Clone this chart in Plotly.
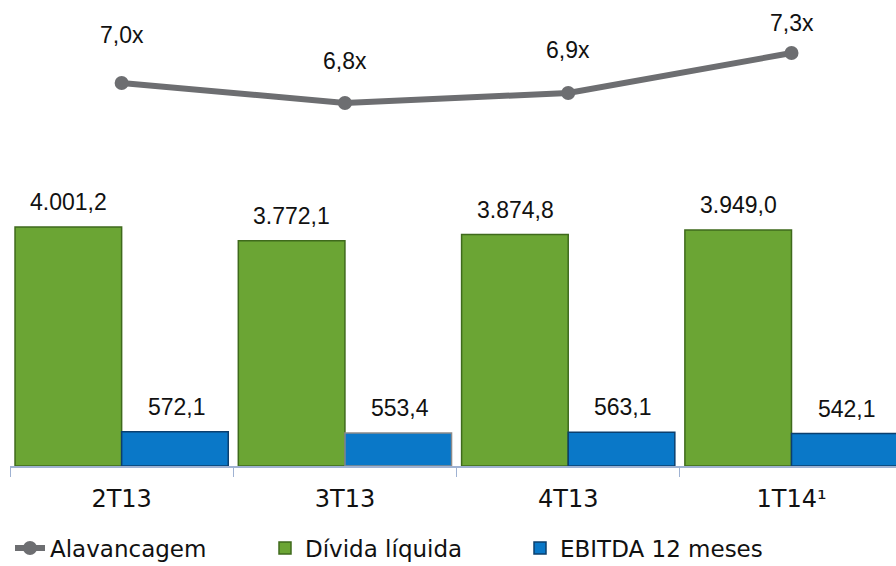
"""Dívida líquida x EBITDA 12 meses, com alavancagem."""

import plotly.graph_objects as go

quarters = ["2T13", "3T13", "4T13", "1T14¹"]
divida_liquida = [4001.2, 3772.1, 3874.8, 3949.0]
ebitda_12m = [572.1, 553.4, 563.1, 542.1]
alavancagem = [7.0, 6.8, 6.9, 7.3]

divida_labels = ["4.001,2", "3.772,1", "3.874,8", "3.949,0"]
ebitda_labels = ["572,1", "553,4", "563,1", "542,1"]
alav_labels = ["7,0x", "6,8x", "6,9x", "7,3x"]

GREEN = "#6ba534"
GREEN_EDGE = "#3f6a1c"
BLUE = "#0a78c8"
BLUE_EDGE = "#0b3f6e"
GREY = "#6d6e71"
NUM_FONT = dict(family="Liberation Sans, Arial", size=23, color="#111111")
TXT_FONT = "DejaVu Sans, Verdana, sans-serif"

fig = go.Figure()

fig.add_trace(
    go.Scatter(
        x=quarters,
        y=alavancagem,
        name="Alavancagem",
        mode="lines+markers",
        line=dict(color=GREY, width=6),
        marker=dict(color=GREY, size=14),
        yaxis="y2",
    )
)
fig.add_trace(
    go.Bar(
        x=quarters,
        y=divida_liquida,
        name="Dívida líquida",
        marker=dict(color=GREEN, line=dict(color=GREEN_EDGE, width=1.5)),
    )
)
fig.add_trace(
    go.Bar(
        x=quarters,
        y=ebitda_12m,
        name="EBITDA 12 meses",
        marker=dict(
            color=BLUE,
            line=dict(color=[BLUE_EDGE, "#8a8a8a", BLUE_EDGE, BLUE_EDGE], width=1.5),
        ),
    )
)

# value labels
for q, v, t in zip(quarters, divida_liquida, divida_labels):
    fig.add_annotation(x=q, y=v, text=t, showarrow=False, yanchor="bottom",
                       xshift=-53, yshift=10, font=NUM_FONT)
for q, v, t in zip(quarters, ebitda_12m, ebitda_labels):
    fig.add_annotation(x=q, y=v, text=t, showarrow=False, yanchor="bottom",
                       xshift=55, yshift=10, font=NUM_FONT)
alav_shift = [48, 42, 43, 30]
for q, v, t, s in zip(quarters, alavancagem, alav_labels, alav_shift):
    fig.add_annotation(x=q, y=v, yref="y2", text=t, showarrow=False,
                       yshift=s, font=NUM_FONT)

fig.update_layout(
    width=896,
    height=566,
    margin=dict(l=10, r=0, t=0, b=100, autoexpand=False),
    paper_bgcolor="white",
    plot_bgcolor="white",
    barmode="group",
    bargap=0.045,
    bargroupgap=0,
    showlegend=True,
    legend=dict(
        orientation="h",
        x=0.0,
        xanchor="left",
        y=-0.176,
        yanchor="middle",
        font=dict(family=TXT_FONT, size=23, color="#111111"),
        entrywidth=210,
        traceorder="normal",
    ),
    xaxis=dict(
        range=[-0.5, 3.468],
        showline=True,
        linecolor="#9fb2d2",
        linewidth=1.5,
        ticks="outside",
        tickson="boundaries",
        ticklen=9,
        tickcolor="#9fb2d2",
        ticklabelstandoff=10,
        automargin=False,
        tickfont=dict(family=TXT_FONT, size=24, color="#111111"),
        showgrid=False,
    ),
    yaxis=dict(range=[0, 7800], visible=False, showgrid=False),
    yaxis2=dict(range=[3.17, 7.83], overlaying="y", visible=False, showgrid=False),
)

fig.write_html(
    "out.html",
    config={"displayModeBar": False},
    post_script="document.body.style.margin='0';",
)
